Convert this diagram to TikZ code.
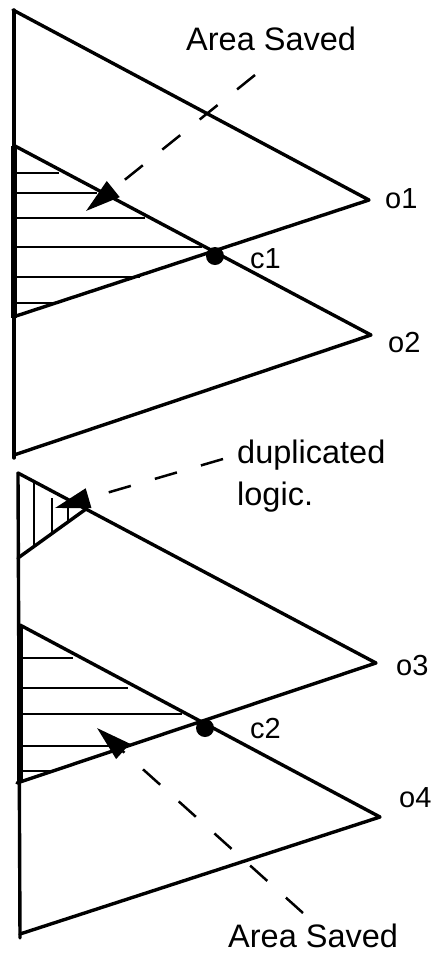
\documentclass[tikz,border=0pt]{standalone}
\usepackage{fontspec}
\setmainfont{Liberation Sans}
\usetikzlibrary{arrows.meta}
\begin{document}
\begin{tikzpicture}[x=1pt,y=-1pt,
  edge/.style={line width=3.4pt, line cap=round, line join=round},
  thickedge/.style={line width=5.5pt},
  hatch/.style={line width=2.6pt},
  leader/.style={line width=2.5pt, dash pattern=on 23pt off 25pt, -{Triangle[length=35pt,width=20pt]}},
  lbl/.style={font=\fontsize{29}{35}\selectfont, inner sep=0pt, anchor=base west},
  biglbl/.style={font=\fontsize{32.5}{42}\selectfont, inner sep=0pt},
  dotmark/.style={circle, fill, minimum size=18pt, inner sep=0pt}]
\useasboundingbox (0,0) rectangle (441,959);
% vertices
\coordinate (A1) at (13,10);
\coordinate (O1) at (369,200);
\coordinate (B1) at (13,317);
\coordinate (A2) at (15,146);
\coordinate (O2) at (371,335);
\coordinate (B2) at (14,455);
\coordinate (V1t) at (14,10);
\coordinate (V1b) at (14,458);
\coordinate (A3) at (18,473);
\coordinate (O3) at (376,663);
\coordinate (B3) at (17,783);
\coordinate (D3) at (86,509);
\coordinate (E3) at (18,558);
\coordinate (A4) at (20,625);
\coordinate (O4) at (380,817);
\coordinate (B4) at (20,934);
\coordinate (V2t) at (18,473);
\coordinate (V2b) at (20,938);
% top section
\draw[edge] (V1t) -- (V1b);
\draw[thickedge] (14,146) -- (14,318);
\draw[edge] (A1) -- (O1) -- (B1);
\draw[edge] (A2) -- (O2) -- (B2);
\foreach \y/\xe in {173/59,193/97,218/145,247/202,277/140,303/55}
  \draw[hatch] (13,\y) -- (\xe,\y);
\node[dotmark] (c1dot) at (215,256) {};
% bottom section
\draw[edge] (V2t) -- (V2b);
\draw[thickedge] (20,625) -- (20,783);
\draw[edge] (A3) -- (O3) -- (B3);
\draw[edge] (E3) -- (D3);
\draw[edge] (A4) -- (O4) -- (B4);
\draw[hatch] (34,482) -- (34,546);
\draw[hatch] (52,498) -- (52,533);
\draw[hatch] (68,505) -- (68,522);
\foreach \y/\xe in {658/73,688/128,714/182,746/125,771/55}
  \draw[hatch] (18,\y) -- (\xe,\y);
\node[dotmark] (c2dot) at (205,728) {};
% labels
\node[biglbl, anchor=base west] (save1) at (186,50) {Area Saved};
\node[lbl] (o1) at (385,208) {o1};
\node[lbl] (c1) at (250,268) {c1};
\node[lbl] (o2) at (388,352) {o2};
\node[biglbl, anchor=north west, align=left] (dup) at (237,440) {duplicated\\logic.};
\node[lbl] (o3) at (396,675) {o3};
\node[lbl] (c2) at (250,738) {c2};
\node[lbl] (o4) at (399,807) {o4};
\node[biglbl, anchor=base west] (save2) at (228,947) {Area Saved};
% leaders
\coordinate (s1) at (255,75);
\coordinate (t1) at (86,211);
\coordinate (s2) at (223,459);
\coordinate (t2) at (55,508);
\coordinate (s3) at (303,913);
\coordinate (t3) at (97,728);
\draw[leader] (s1) -- (t1);
\draw[leader] (s2) -- (t2);
\draw[leader] (s3) -- (t3);
\end{tikzpicture}
\end{document}
